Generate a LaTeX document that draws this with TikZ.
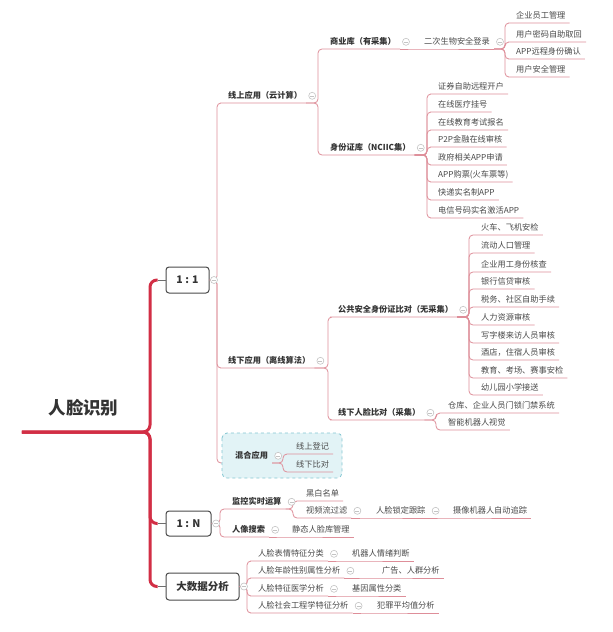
\documentclass[tikz,border=0pt]{standalone}
\usepackage{fontspec}
\setmainfont{Noto Sans CJK SC}
\usetikzlibrary{calc}
\definecolor{trunkred}{HTML}{D22E45}
\definecolor{linkpink}{HTML}{DE8E99}
\definecolor{txt}{HTML}{4A4A4A}
\definecolor{btxt}{HTML}{333333}
\definecolor{boxgray}{HTML}{4A4A4A}
\definecolor{mixfill}{HTML}{E2F3F6}
\definecolor{mixdraw}{HTML}{84C6D2}
\definecolor{colgray}{HTML}{C4C4C4}
\newcommand\br[3]{\draw[link] (#1) -- (#2 |- #1) |- (#3.south west) -- (#3.south east);}
\newcommand\chainto[2]{\draw[link] (#1.south east) -- (#2.south west) -- (#2.south east);}
\begin{document}
\begin{tikzpicture}[x=1pt,y=-1pt,
  leaf/.style={anchor=south west, inner xsep=4pt, inner ysep=2.5pt, text height=7pt, text depth=2pt, font=\fontsize{8.2}{9}\selectfont, text=txt},
  bleaf/.style={leaf, font=\fontsize{8.2}{9}\selectfont\bfseries, text=btxt},
  mainbox/.style={draw=boxgray, fill=white, line width=1pt, rounded corners=3pt, font=\fontsize{10.5}{12}\selectfont\bfseries, text=btxt, inner sep=0pt},
  rootnode/.style={anchor=south, minimum width=123pt, minimum height=48pt, inner sep=0pt, font=\fontsize{17.5}{20}\selectfont\bfseries, text=btxt},
  link/.style={draw=linkpink, line width=0.8pt, rounded corners=4pt},
  trunk/.style={draw=trunkred, line width=3pt, rounded corners=7pt},
  boxlink/.style={draw=boxgray!80, line width=0.8pt},
  col/.style={circle, draw=colgray, fill=white, line width=0.6pt, minimum size=7pt, inner sep=0pt,
    path picture={\draw[colgray, line width=0.6pt] ([xshift=-2pt]path picture bounding box.center) -- ([xshift=2pt]path picture bounding box.center);}},
  mixbox/.style={draw=mixdraw, fill=mixfill, dashed, line width=0.8pt, rounded corners=5pt}
]
\useasboundingbox (0,0) rectangle (613,632);
\fill[white] (0,0) rectangle (613,632);

% ---------- root and main boxes ----------
\node[rootnode] (root) at (83.5,432) {人脸识别};
\node[mainbox, minimum width=43pt, minimum height=26pt] (b11) at (187.5,280) {1 : 1};
\node[mainbox, minimum width=45pt, minimum height=25pt] (b1N) at (188.5,523.5) {1 : N};
\node[mainbox, minimum width=73pt, minimum height=27pt] (big) at (202.5,586.5) {大数据分析};

\coordinate (T0) at (150,432);
\coordinate (e11) at ([xshift=-8pt]b11.west);
\coordinate (e1N) at ([xshift=-8pt]b1N.west);
\coordinate (eBig) at ([xshift=-8pt]big.west);
\draw[trunk] (root.south west) -- (T0) |- (e11);
\draw[trunk] (root.south west) -- (T0) |- (e1N);
\draw[trunk] (root.south west) -- (T0) |- (eBig);
\draw[boxlink] (e11) -- (b11.west);
\draw[boxlink] (e1N) -- (b1N.west);
\draw[boxlink] (eBig) -- (big.west);

% trunk coordinates
\coordinate (v11) at (217,0);
\coordinate (vOn) at (318,0);
\coordinate (vBio) at (505,0);
\coordinate (vID) at (427,0);
\coordinate (vOff) at (328,0);
\coordinate (vPub) at (469,0);
\coordinate (vLoc) at (436,0);
\coordinate (vMix) at (283,0);
\coordinate (v1N) at (220,0);
\coordinate (vMon) at (293,0);
\coordinate (vBig) at (247,0);

% ---------- 1:1 ----------
\node[bleaf] (on) at (224,103) {线上应用（云计算）};
\node[bleaf] (off) at (224,368) {线下应用（离线算法）};
\br{b11.east}{v11}{on}
\br{b11.east}{v11}{off}
\coordinate (mixend) at (231,463);
\draw[link] (b11.east) -- (v11 |- b11.east) |- (mixend);

% online
\node[bleaf] (biz) at (326,49) {商业库（有采集）};
\node[bleaf] (idl) at (326,155) {身份证库（NCIIC集）};
\br{on.south east}{vOn}{biz}
\br{on.south east}{vOn}{idl}
\node[leaf] (bio) at (420,49) {二次生物安全登录};
\chainto{biz}{bio}
\node[leaf] (bio1) at (512,23) {企业员工管理};
\node[leaf] (bio2) at (512,42) {用户密码自助取回};
\node[leaf] (bio3) at (512,59) {APP远程身份确认};
\node[leaf] (bio4) at (512,77) {用户安全管理};
\foreach \c in {bio1,bio2,bio3,bio4} {\br{bio.south east}{vBio}{\c}}

\node[leaf] (id1) at (434,94) {证券自助远程开户};
\node[leaf] (id2) at (434,112) {在线医疗挂号};
\node[leaf] (id3) at (434,130) {在线教育考试报名};
\node[leaf] (id4) at (434,147) {P2P金融在线审核};
\node[leaf] (id5) at (434,165) {政府相关APP申请};
\node[leaf] (id6) at (434,182) {APP购票(火车票等)};
\node[leaf] (id7) at (434,200) {快递实名制APP};
\node[leaf] (id8) at (434,218) {电信号码实名激活APP};
\foreach \c in {id1,id2,id3,id4,id5,id6,id7,id8} {\br{idl.south east}{vID}{\c}}

% offline
\node[bleaf] (pub) at (334,317) {公共安全身份证比对（无采集）};
\node[bleaf] (loc) at (334,420) {线下人脸比对（采集）};
\br{off.south east}{vOff}{pub}
\br{off.south east}{vOff}{loc}
\node[leaf] (p1) at (477,235) {火车、飞机安检};
\node[leaf] (p2) at (477,253) {流动人口管理};
\node[leaf] (p3) at (477,272) {企业用工身份核查};
\node[leaf] (p4) at (477,289) {银行信贷审核};
\node[leaf] (p5) at (477,307) {税务、社区自助手续};
\node[leaf] (p6) at (477,325) {人力资源审核};
\node[leaf] (p7) at (477,343) {写字楼来访人员审核};
\node[leaf] (p8) at (477,360) {酒店，住宿人员审核};
\node[leaf] (p9) at (477,378) {教育、考场、赛事安检};
\node[leaf] (p10) at (477,395) {幼儿园小学接送};
\foreach \c in {p1,p2,p3,p4,p5,p6,p7,p8,p9,p10} {\br{pub.south east}{vPub}{\c}}
\node[leaf] (l1) at (444,413) {仓库、企业人员门锁门禁系统};
\node[leaf] (l2) at (444,430) {智能机器人视觉};
\br{loc.south east}{vLoc}{l1}
\br{loc.south east}{vLoc}{l2}

% mixed
\draw[mixbox] (222,433) rectangle (342,478);
\node[bleaf] (mix) at (231,463) {混合应用};
\node[leaf] (x1) at (292,454) {线上登记};
\node[leaf] (x2) at (292,472) {线下比对};
\br{mix.south east}{vMix}{x1}
\br{mix.south east}{vMix}{x2}

% ---------- 1:N ----------
\node[bleaf] (mon) at (228,509) {监控实时运算};
\node[bleaf] (srch) at (228,537) {人像搜索};
\br{b1N.east}{v1N}{mon}
\br{b1N.east}{v1N}{srch}
\node[leaf] (m1) at (302,501) {黑白名单};
\node[leaf] (m2) at (302,518) {视频流过滤};
\br{mon.south east}{vMon}{m1}
\br{mon.south east}{vMon}{m2}
\node[leaf] (m3) at (372,518) {人脸锁定跟踪};
\node[leaf] (m4) at (449,518) {摄像机器人自动追踪};
\chainto{m2}{m3}
\chainto{m3}{m4}
\node[leaf] (s1) at (288,537) {静态人脸库管理};
\chainto{srch}{s1}

% ---------- big data ----------
\node[leaf] (g1) at (254,561) {人脸表情特征分类};
\node[leaf] (g2) at (254,578) {人脸年龄性别属性分析};
\node[leaf] (g3) at (254,596) {人脸特征医学分析};
\node[leaf] (g4) at (254,613) {人脸社会工程学特征分析};
\foreach \c in {g1,g2,g3,g4} {\br{big.east}{vBig}{\c}}
\node[leaf] (h1) at (348,561) {机器人情绪判断};
\node[leaf] (h2) at (378,578) {广告、人群分析};
\node[leaf] (h3) at (348,596) {基因属性分类};
\node[leaf] (h4) at (373,613) {犯罪平均值分析};
\chainto{g1}{h1}
\chainto{g2}{h2}
\chainto{g3}{h3}
\chainto{g4}{h4}

% ---------- collapse markers ----------
\node[col] (c11) at ([xshift=4.5pt]b11.east) {};
\node[col] (c1N) at ([xshift=4.5pt]b1N.east) {};
\node[col] (cBig) at ([xshift=4.5pt]big.east) {};
\foreach \n in {on,off,mix,biz,bio,idl,pub,loc,mon,m2,m3,srch,g1,g2,g3,g4}
  {\node[col] (c\n) at ([xshift=6pt]\n.east) {};}
\end{tikzpicture}
\end{document}
